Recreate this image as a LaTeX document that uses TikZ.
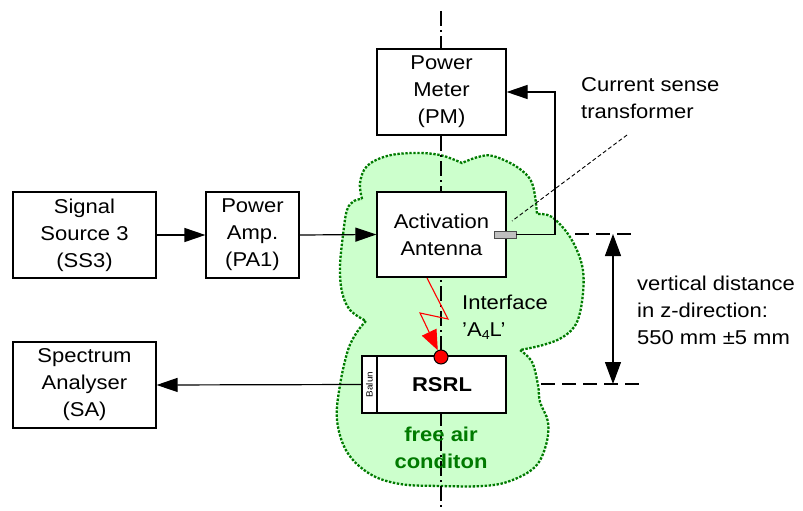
\documentclass[tikz,border=0pt]{standalone}
\usepackage{fontspec}
\setmainfont{Liberation Sans}[FakeStretch=1.1]
\usetikzlibrary{arrows.meta}
\definecolor{cloudfill}{HTML}{CCFFCC}
\definecolor{cloudline}{HTML}{007A00}
\definecolor{sensorgray}{HTML}{BFBFBF}
\tikzset{
  box/.style={draw, fill=white, line width=1.2pt, align=center, inner sep=0pt,
    font=\fontsize{20}{27}\selectfont},
  txt/.style={align=left, inner sep=0pt, font=\fontsize{20}{27}\selectfont},
  conn/.style={line width=1.2pt, -{Triangle[length=21pt,width=14pt]}},
  dimline/.style={line width=2pt, dash pattern=on 14pt off 7pt},
  cloud/.style={fill=cloudfill, draw=cloudline, line width=2.3pt, dash pattern=on 2.4pt off 1.6pt},
  axisline/.style={line width=2.2pt, dash pattern=on 15pt off 4pt on 2pt off 4pt},
}
\begin{document}
\begin{tikzpicture}[x=1pt,y=-1pt]
\useasboundingbox (0,0) rectangle (803,511);
% cloud
\path[cloud]
  plot[smooth,tension=0.6] coordinates {(362,199) (360,183) (367,166) (387,156) (413,153) (440,155) (462,163)}
  -- plot[smooth,tension=0.6] coordinates {(462,163) (478,157) (493,156) (517,167) (532,183) (537,214)}
  -- plot[smooth,tension=0.6] coordinates {(537,214) (552,217) (570,237) (582,265) (583,293) (577,322) (563,337) (543,345) (520,350)}
  -- plot[smooth,tension=0.6] coordinates {(520,350) (532,362) (538,385) (540,402) (548,422) (546,445) (535,467) (510,481) (483,486) (440,486) (400,484) (370,474) (347,452) (337,420) (340,385) (348,350) (357,332) (366,321)}
  -- plot[smooth,tension=0.6] coordinates {(366,321) (350,310) (342,292) (340,267) (343,235) (347,210) (354,201) (362,199)}
  -- cycle;
% axis
\coordinate (axtop) at (441,11);
\coordinate (axbot) at (441,511);
\draw[axisline] (axtop) -- (axbot);
% boxes
\node[box, minimum width=129pt, minimum height=86pt] (pm) at (441.5,92) {Power\\Meter\\(PM)};
\node[box, minimum width=129pt, minimum height=85pt] (ant) at (441.5,234.5) {Activation\\Antenna};
\node[box, minimum width=143pt, minimum height=86pt] (ss) at (84.5,235) {Signal\\Source 3\\(SS3)};
\node[box, minimum width=93pt, minimum height=86pt] (pa) at (252.5,235) {Power\\Amp.\\(PA1)};
\node[box, minimum width=143pt, minimum height=86pt] (sa) at (84.5,385) {Spectrum\\Analyser\\(SA)};
\node[box, minimum width=144pt, minimum height=57pt] (rsrl) at (434,384.5) {};
\node[box, minimum width=15pt, minimum height=57pt, font=\fontsize{9}{9}\selectfont] (balun) at (369.5,384.5) {\rotatebox{90}{Balun}};
\node[inner sep=0pt, font=\fontsize{20}{24}\selectfont\bfseries] (rsrltxt) at (442,385) {RSRL};
% sensor
\node[draw=black!70, fill=sensorgray, line width=0.8pt, minimum width=22pt, minimum height=7pt, inner sep=0pt] (cst) at (505,234.5) {};
% connectors
\draw[conn] (ss.east) -- (pa.west);
\draw[conn] (pa.east) -- (ant.west);
\draw[conn] (rsrl.west) -- (sa.east);
\coordinate (c1) at (555,92);
\draw[conn] (cst.east) -| (c1) -- (pm.east);
% label current sense transformer
\node[txt, anchor=west] (cstlabel) at (581,98) {Current sense\\transformer};
\coordinate (l1) at (627,135);
\coordinate (l2) at (512,221);
\draw[line width=0.9pt, dash pattern=on 4pt off 2.5pt] (l1) -- (l2);
% dimension
\coordinate (dt1) at (575,234);
\coordinate (dt2) at (633,234);
\coordinate (db1) at (541,384);
\coordinate (db2) at (642,384);
\draw[dimline] (dt1) -- (dt2);
\draw[dimline] (db1) -- (db2);
\coordinate (dt) at (613,234);
\coordinate (db) at (613,384);
\draw[line width=1.2pt, {Triangle[length=22pt,width=16pt]}-{Triangle[length=22pt,width=16pt]}] (dt) -- (db);
\node[txt, anchor=west] (dimtxt) at (637,310) {vertical distance\\in z-direction:\\550 mm \raisebox{0pt}{±}5 mm};
% red interface
\node[circle, draw=black, fill=red, line width=1pt, minimum size=14pt, inner sep=0pt] (dot) at (441,357) {};
\coordinate (z0) at (427,278);
\coordinate (z1) at (448,319);
\coordinate (z2) at (420,313);
\draw[red, line width=1.1pt, -{Triangle[length=20pt,width=16pt]}] (z0) -- (z1) -- (z2) -- (dot);
\node[txt, anchor=west] (iface) at (462,317) {Interface\\'A\raisebox{-0.25ex}{\fontsize{13}{13}\selectfont 4}L'};
% free air
\node[align=center, inner sep=0pt, text=cloudline, font=\fontsize{20}{27}\selectfont\bfseries] (free) at (441,448) {free air\\conditon};
\end{tikzpicture}
\end{document}
